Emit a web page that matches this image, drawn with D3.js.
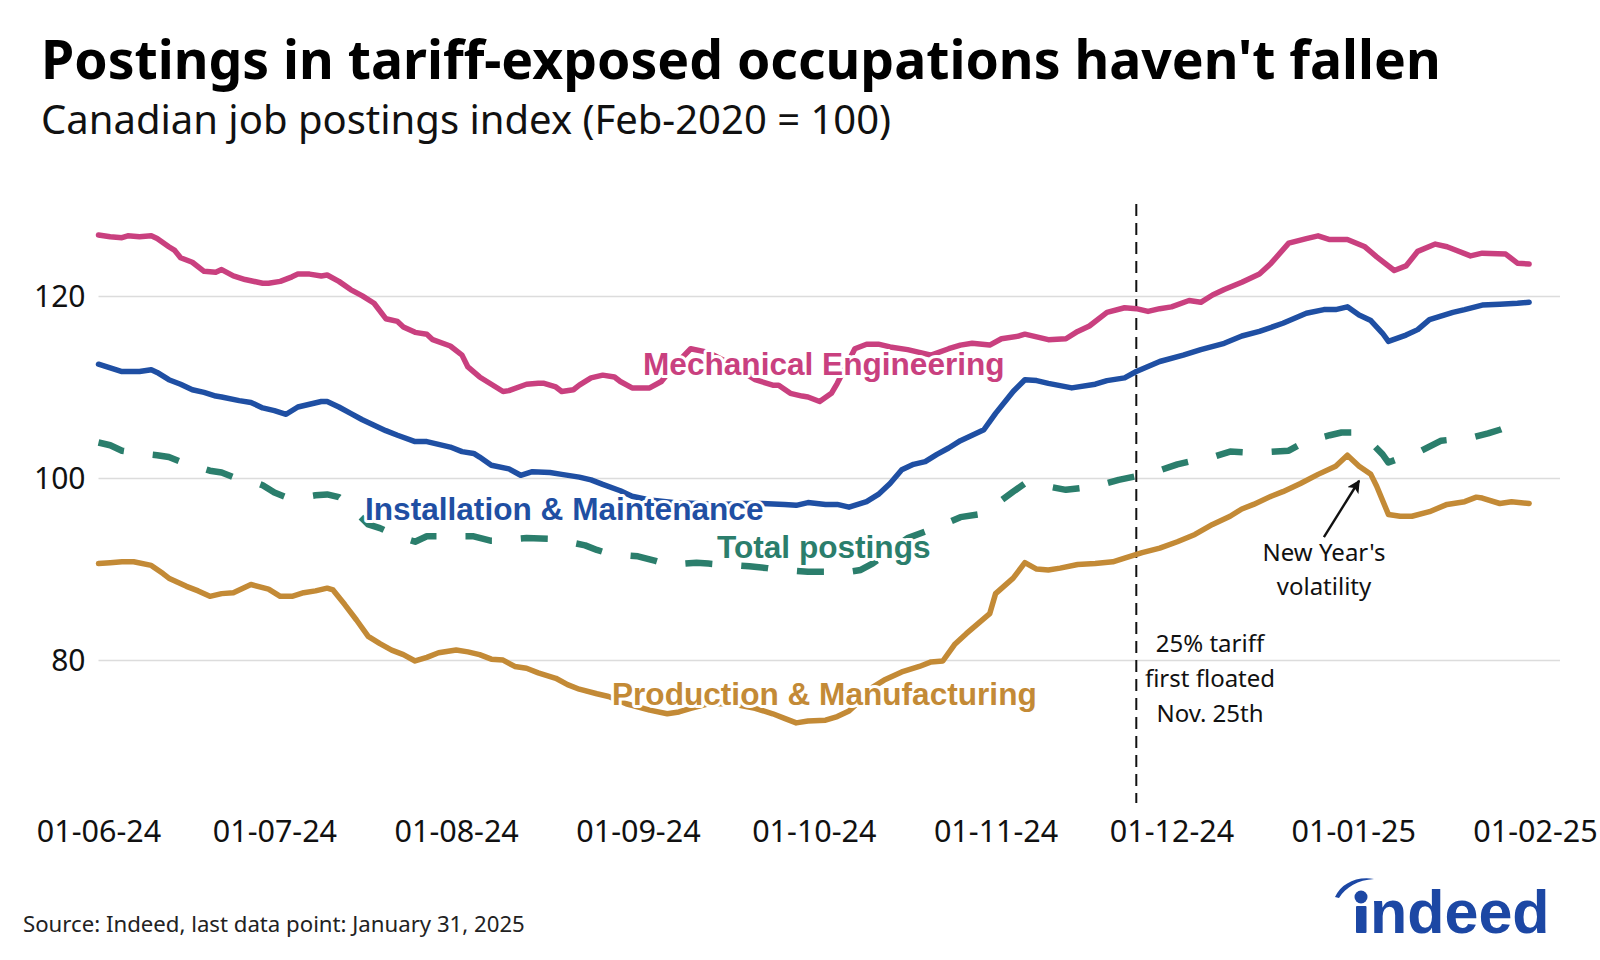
<!DOCTYPE html>
<html><head><meta charset="utf-8">
<script src="https://cdn.jsdelivr.net/npm/d3@7"></script>
<style>
html,body{margin:0;padding:0;background:#fff;}
svg{display:block;}
</style></head>
<body>
<svg id="chart" width="1600" height="960"></svg>
<script>
// ---------------- DATA ----------------
const startDate = "2024-06-01";           // day 0 of the day offsets below
const xTickDates = ["2024-06-01","2024-07-01","2024-08-01","2024-09-01","2024-10-01","2024-11-01","2024-12-01","2025-01-01","2025-02-01"];
const xTickLabels = ["01-06-24","01-07-24","01-08-24","01-09-24","01-10-24","01-11-24","01-12-24","01-01-25","01-02-25"];
const yTicks = [80, 100, 120];
const yTickLabels = ["80", "100", "120"];

// Mechanical Engineering
const mechDays = [0,2,4,5,7,9,10,12,13,14,16,18,20,21,23,25,28,29,31,33,34,36,38,39,41,43,45,47,49,51,52,54,56,57,60,62,63,65,67,69,70,73,75,76,78,79,81,82,84,86,88,89,91,93,94,96,98,101,104,107,110,112,115,116,118,120,121,123,125,126,129,131,133,135,138,142,145,147,149,152,154,157,158,160,162,165,167,169,172,175,177,179,181,183,186,188,190,192,195,198,200,203,206,208,210,213,216,218,221,223,225,228,230,234,236,240,242,244];
const mechValues = [126.7,126.5,126.4,126.6,126.5,126.6,126.3,125.4,125.0,124.2,123.7,122.7,122.6,122.9,122.2,121.8,121.4,121.4,121.6,122.1,122.4,122.4,122.2,122.3,121.6,120.7,120.0,119.2,117.5,117.2,116.6,116.0,115.8,115.2,114.5,113.5,112.2,111.1,110.3,109.5,109.6,110.3,110.4,110.4,110.0,109.5,109.7,110.2,111.0,111.3,111.1,110.6,109.9,109.9,109.9,110.6,112.2,114.2,113.8,112.8,111.6,110.8,110.2,110.2,109.3,109.0,108.9,108.4,109.3,110.4,114.2,114.7,114.7,114.4,114.1,113.5,114.2,114.6,114.8,114.6,115.3,115.6,115.8,115.5,115.2,115.3,116.1,116.7,118.2,118.7,118.6,118.3,118.6,118.8,119.5,119.3,120.1,120.7,121.5,122.4,123.6,125.8,126.3,126.6,126.2,126.2,125.4,124.3,122.8,123.3,124.9,125.7,125.4,124.4,124.7,124.6,123.6,123.5];

// Installation & Maintenance
const instDays = [0,2,4,7,9,10,12,14,16,18,20,21,24,26,28,30,32,34,36,38,39,41,43,45,47,49,51,54,56,58,60,62,64,65,67,70,72,74,77,79,82,84,86,89,91,94,98,102,106,110,113,117,119,121,124,126,128,131,133,135,137,139,141,143,145,147,149,151,153,156,158,160,162,166,170,172,175,177,181,185,188,192,195,198,202,206,209,211,213,215,217,219,220,223,225,227,231,233,236,239,242,244];
const instValues = [112.5,112.1,111.7,111.7,111.9,111.6,110.8,110.3,109.7,109.4,109.0,108.9,108.5,108.3,107.7,107.4,107.0,107.8,108.1,108.4,108.4,107.8,107.1,106.4,105.8,105.2,104.7,104.0,104.0,103.7,103.4,102.9,102.7,102.3,101.4,101.0,100.3,100.7,100.6,100.4,100.1,99.8,99.3,98.6,98.0,97.6,97.3,97.2,97.1,97.2,97.2,97.1,97.0,97.3,97.1,97.1,96.8,97.4,98.2,99.4,100.9,101.5,101.8,102.6,103.3,104.1,104.7,105.3,107.1,109.5,110.8,110.7,110.4,109.9,110.3,110.7,111.0,111.7,112.8,113.5,114.1,114.8,115.6,116.1,117.0,118.1,118.5,118.5,118.8,117.9,117.3,115.9,115.0,115.7,116.3,117.4,118.2,118.5,119.0,119.1,119.2,119.3];

// Total postings
const totalDays = [0,2,4,7,10,12,14,17,19,21,23,26,28,30,32,35,37,39,41,42,44,46,48,50,52,54,56,59,61,64,67,68,71,73,78,80,83,85,87,90,92,95,97,100,102,104,106,109,111,114,116,119,121,124,126,128,130,132,135,138,143,147,150,152,156,158,160,165,170,174,177,179,184,186,189,193,196,198,203,205,207,210,212,214,215,217,219,220,222,225,229,232,234,237,239,241,243];
const totalValues = [103.9,103.6,103.0,102.7,102.5,102.3,101.8,101.2,100.8,100.6,100.1,99.7,99.2,98.4,97.9,97.9,98.1,98.2,97.9,97.4,96.2,94.9,94.5,93.9,93.4,93.0,93.6,93.6,93.6,93.6,93.1,93.1,93.3,93.4,93.3,93.0,92.6,92.1,91.7,91.5,91.4,90.9,90.5,90.6,90.7,90.6,90.5,90.4,90.3,90.1,89.9,89.8,89.7,89.7,89.6,89.7,89.9,90.6,92.0,93.4,94.6,95.7,96.0,96.6,98.5,99.4,99.3,98.7,99.1,99.8,100.2,100.4,101.5,101.8,102.1,102.9,102.8,102.8,103.0,103.7,104.2,104.7,105.0,105.0,104.4,103.9,102.6,101.7,102.2,102.8,104.1,104.3,104.4,104.9,105.3,105.8,105.5];

// Production & Manufacturing
const prodDays = [0,2,4,6,9,11,12,15,17,19,21,23,25,26,29,31,33,35,37,39,40,42,44,46,48,50,52,54,56,58,61,63,65,67,69,71,73,75,78,80,82,85,87,90,94,97,99,101,104,108,112,115,117,119,121,124,126,128,130,132,134,137,140,142,144,146,148,150,152,153,156,158,160,162,164,167,170,173,175,178,181,184,187,190,193,195,197,200,202,205,208,211,213,215,217,218,220,222,224,227,230,233,235,236,239,241,244];
const prodValues = [90.6,90.7,90.8,90.8,90.4,89.5,89.0,88.1,87.6,87.0,87.3,87.4,88.0,88.3,87.8,87.0,87.0,87.4,87.6,87.9,87.7,86.1,84.4,82.6,81.8,81.1,80.6,79.9,80.3,80.8,81.1,80.9,80.6,80.1,80.0,79.3,79.1,78.6,78.0,77.3,76.8,76.3,76.0,75.2,74.5,74.1,74.3,74.7,75.2,75.2,74.7,74.1,73.6,73.1,73.3,73.4,73.8,74.4,75.6,77.0,77.8,78.7,79.3,79.8,79.9,81.7,82.9,84.0,85.1,87.3,89.0,90.7,90.0,89.9,90.1,90.5,90.6,90.8,91.2,91.8,92.3,93.0,93.8,94.9,95.8,96.6,97.1,98.0,98.5,99.4,100.4,101.3,102.5,101.3,100.4,99.1,96.0,95.8,95.8,96.3,97.1,97.4,97.9,97.8,97.2,97.4,97.2];

const seriesNames = ["Total postings","Production & Manufacturing","Installation & Maintenance","Mechanical Engineering"];

// annotations
const tariffDate = "2024-11-25";
const tariffText = ["25% tariff","first floated","Nov. 25th"];
const newYearText = ["New Year's","volatility"];
const sourceText = "Source: Indeed, last data point: January 31, 2025";

// ---------------- CHART ----------------
const parse = d3.utcParse("%Y-%m-%d");
const base = parse(startDate);
const toDate = d => d3.utcDay.offset(base, d);

const svg = d3.select("#chart");
const plotLeft = 98.5, plotRight = 1535, gridRight = 1560;
const plotTop = 204, plotBottom = 803;

const x = d3.scaleUtc().domain([parse(xTickDates[0]), parse(xTickDates[xTickDates.length-1])]).range([plotLeft, plotRight]);
const y = d3.scaleLinear().domain([64.3, 130.1]).range([plotBottom, plotTop]);

const series = [
  {name: seriesNames[0], days: totalDays, values: totalValues, color: "#2b7e6c", dash: "27,29", lx: 717, ly: 558},
  {name: seriesNames[1], days: prodDays, values: prodValues, color: "#c38a36", dash: null, lx: 612, ly: 705},
  {name: seriesNames[2], days: instDays, values: instValues, color: "#1f4fa3", dash: null, lx: 365, ly: 520},
  {name: seriesNames[3], days: mechDays, values: mechValues, color: "#c9407f", dash: null, lx: 643, ly: 375}
];

const sans = "'Noto Sans', 'Open Sans', sans-serif";

// title
svg.append("text").attr("x", 41).attr("y", 79)
  .style("font-family", sans).style("font-weight", 700)
  .style("font-size", "53.5px").attr("fill", "#000")
  .text("Postings in tariff-exposed occupations haven't fallen");
svg.append("text").attr("x", 41).attr("y", 134)
  .style("font-family", sans).style("font-weight", 400)
  .style("font-size", "40px").attr("fill", "#111")
  .text("Canadian job postings index (Feb-2020 = 100)");

// y grid + labels
const yAxis = d3.axisLeft(y).tickValues(yTicks).tickFormat((d,i) => yTickLabels[i])
  .tickSize(-(gridRight - plotLeft)).tickPadding(13);
const gy = svg.append("g").attr("transform", `translate(${plotLeft},0)`).call(yAxis);
gy.select(".domain").remove();
gy.selectAll(".tick line").attr("stroke", "#dcdcdc").attr("stroke-width", 1.5);
gy.selectAll(".tick text").attr("fill", "#111")
  .style("font-family", sans).style("font-size", "30px")
  .attr("dy", "0.36em");

// x labels
const xAxis = d3.axisBottom(x).tickValues(xTickDates.map(parse)).tickFormat((d,i) => xTickLabels[i]).tickSize(0).tickPadding(0);
const gx = svg.append("g").attr("transform", `translate(0,${plotBottom})`).call(xAxis);
gx.select(".domain").remove();
gx.selectAll(".tick text").attr("fill", "#111").attr("y", 39).attr("dy", 0)
  .style("font-family", sans).style("font-size", "30.5px");

// vertical tariff line
svg.append("line")
  .attr("x1", x(parse(tariffDate))).attr("x2", x(parse(tariffDate)))
  .attr("y1", plotTop).attr("y2", plotBottom)
  .attr("stroke", "#111").attr("stroke-width", 2).attr("stroke-dasharray", "12,7");

// lines
const line = d3.line().x(d => x(toDate(d[0]))).y(d => y(d[1])).curve(d3.curveLinear);
series.forEach(s => {
  const pts = s.days.map((d,i) => [d, s.values[i]]);
  svg.append("path").datum(pts).attr("d", line)
    .attr("fill", "none").attr("stroke", s.color).attr("stroke-width", s.dash ? 6.5 : 5.5)
    .attr("stroke-linejoin", "round").attr("stroke-linecap", s.dash ? "butt" : "round")
    .attr("stroke-dasharray", s.dash);
});

// series labels with white halo
series.forEach(s => {
  svg.append("text").attr("x", s.lx).attr("y", s.ly)
    .style("font-family", "'Liberation Sans', Arial, sans-serif").style("font-weight", 700)
    .style("font-size", "31.6px")
    .attr("fill", s.color).attr("stroke", "#fff").attr("stroke-width", 6)
    .attr("stroke-linejoin", "round").style("paint-order", "stroke")
    .text(s.name);
});

// annotations
tariffText.forEach((t,i) => {
  svg.append("text").attr("x", 1210).attr("y", 652 + i*35).attr("text-anchor", "middle")
    .style("font-family", sans).style("font-size", "24px").attr("fill", "#111").text(t);
});
newYearText.forEach((t,i) => {
  svg.append("text").attr("x", 1324).attr("y", 561 + i*34).attr("text-anchor", "middle")
    .style("font-family", sans).style("font-size", "24px").attr("fill", "#111").text(t);
});
// arrow (data coords: tail at day 209.3 / 93.5, tip at day 215.6 / 99.7)
const tail = [x(toDate(209.3)), y(93.5)], tip = [x(toDate(215.6)), y(99.7)];
const defs = svg.append("defs");
defs.append("marker").attr("id", "arr").attr("viewBox", "0 0 10 10").attr("refX", 9).attr("refY", 5)
  .attr("markerWidth", 13).attr("markerHeight", 13).attr("markerUnits", "userSpaceOnUse")
  .attr("orient", "auto")
  .append("path").attr("d", "M0,0 L10,5 L0,10 L2.5,5 Z").attr("fill", "#111");
svg.append("line").attr("x1", tail[0]).attr("y1", tail[1]).attr("x2", tip[0]).attr("y2", tip[1])
  .attr("stroke", "#111").attr("stroke-width", 2.4).attr("marker-end", "url(#arr)");

// source
svg.append("text").attr("x", 23).attr("y", 932)
  .style("font-family", sans).style("font-size", "22.2px").attr("fill", "#222").text(sourceText);

// indeed logo
const logo = svg.append("g").attr("fill", "#1c47a4");
logo.append("path").attr("d", "M1335,897 C1341,884 1356,876 1374,879 C1358,880 1346,887 1339,898 Z");
logo.append("circle").attr("cx", 1361).attr("cy", 897).attr("r", 6.5);
logo.append("rect").attr("x", 1356).attr("y", 906).attr("width", 10.5).attr("height", 27).attr("rx", 1);
logo.append("text").attr("x", 1370).attr("y", 933)
  .style("font-family", "'Liberation Sans', Arial, sans-serif").style("font-weight", 700)
  .style("font-size", "61px").text("ndeed");
</script>
</body></html>
